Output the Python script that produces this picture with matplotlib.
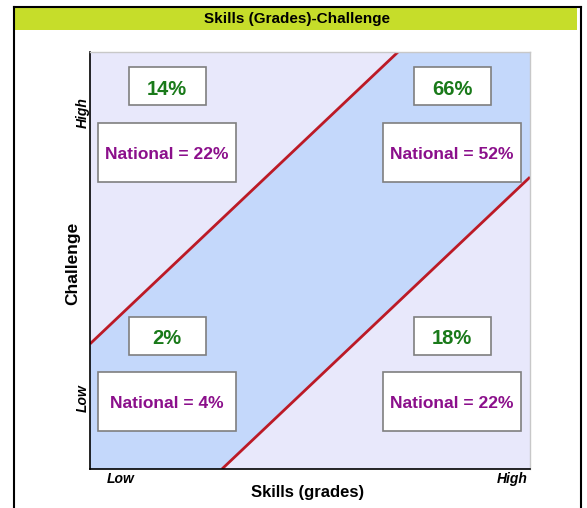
import matplotlib.pyplot as plt
from matplotlib.patches import Rectangle, Polygon
from matplotlib.lines import Line2D

plt.rcParams["font.family"] = ["Liberation Sans", "DejaVu Sans"]

# quadrant values: (skills column, challenge row)
quadrants = ["low_high", "high_high", "low_low", "high_low"]
school_pct = [14, 66, 2, 18]
national_pct = [22, 52, 4, 22]
tick_labels = ["Low", "High"]
band_offset = 0.3  # flow band: |challenge - skills| < offset

W, H = 587, 508
fig = plt.figure(figsize=(W / 100, H / 100), dpi=100)
fig.patch.set_facecolor("white")

# outer frame and title bar
fig.add_artist(Rectangle((14 / W, 1 - 29.5 / H), 563 / W, 21.5 / H, transform=fig.transFigure,
                         facecolor="#c6dd2a", edgecolor="none"))
for xs, ys in [([14, 14], [7, 520]), ([14, 581], [7, 7]), ([581, 581], [7, 520])]:
    fig.add_artist(Line2D([x / W for x in xs], [1 - y / H for y in ys],
                          transform=fig.transFigure, color="black", lw=1.5))
fig.text(297 / W, 1 - 19 / H, "Skills (Grades)-Challenge", ha="center", va="center",
         fontsize=11, fontweight="bold")

ax = fig.add_axes([90 / W, 1 - 469 / H, 440 / W, 417 / H])
ax.set_xlim(0, 1)
ax.set_ylim(0, 1)
ax.set_facecolor("#e8e8fb")

d = band_offset
ax.add_patch(Polygon([(0, 0), (d, 0), (1, 1 - d), (1, 1), (1 - d, 1), (0, d)],
                     closed=True, facecolor="#c4d8fb", edgecolor="none", zorder=1))
ax.plot([0, 1 - d], [d, 1], color="#bc1a26", lw=2, zorder=2, solid_capstyle="butt")
ax.plot([d, 1], [0, 1 - d], color="#bc1a26", lw=2, zorder=2, solid_capstyle="butt")

col_x = {"low": 0.175, "high": 0.823}
row_y = {"high": 0.918, "low": 0.32}
nat_dy = -0.159
for q, sp, npct in zip(quadrants, school_pct, national_pct):
    cx = col_x[q.split("_")[0]]
    cy = row_y[q.split("_")[1]]
    ax.add_patch(Rectangle((cx - 0.0875, cy - 0.0455), 0.175, 0.091, facecolor="white",
                           edgecolor="#7f7f7f", lw=1.2, zorder=3))
    ax.text(cx, cy - 0.007, f"{sp}%", ha="center", va="center", fontsize=14.5,
            fontweight="bold", color="#1a7a1a", zorder=4)
    ny = cy + nat_dy
    ax.add_patch(Rectangle((cx - 0.156, ny - 0.071), 0.312, 0.142, facecolor="white",
                           edgecolor="#7f7f7f", lw=1.2, zorder=3))
    ax.text(cx, ny - 0.004, f"National = {npct}%", ha="center", va="center", fontsize=12.5,
            fontweight="bold", color="#8b0f8b", zorder=4)

ax.set_xticks([0.07, 0.96])
ax.set_xticklabels(tick_labels, fontsize=10, fontweight="bold", style="italic")
ax.set_yticks([0.17, 0.854])
ax.set_yticklabels(tick_labels, fontsize=10, fontweight="bold", style="italic",
                   rotation=90, va="center")
ax.tick_params(axis="y", length=0, pad=0)
ax.tick_params(axis="x", length=0, pad=2)
ax.set_xlabel("Skills (grades)", fontsize=12, fontweight="bold")
ax.set_ylabel("Challenge", fontsize=12.5, fontweight="bold")
ax.xaxis.set_label_coords(0.495, -0.039)
ax.yaxis.set_label_coords(-0.022, 0.494)

for side in ["top", "right"]:
    ax.spines[side].set_color("#c8c8c8")
    ax.spines[side].set_linewidth(1)
for side in ["left", "bottom"]:
    ax.spines[side].set_color("black")
    ax.spines[side].set_linewidth(1.2)

fig.savefig("out.png", dpi=100)
